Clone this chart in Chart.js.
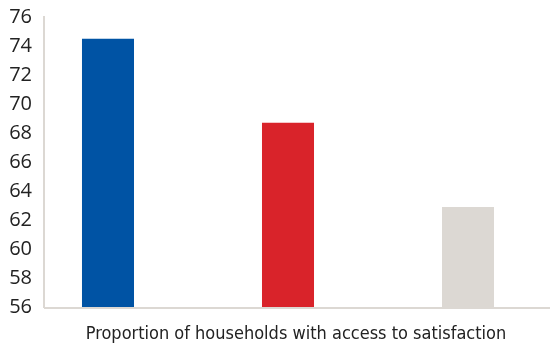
<!DOCTYPE html>
<html>
<head>
<meta charset="utf-8">
<script src="https://cdn.jsdelivr.net/npm/chart.js@4"></script>
<style>
  html, body { margin: 0; padding: 0; background: #fff; }
  #wrap { width: 550px; height: 347px; }
</style>
</head>
<body>
<div id="wrap"><canvas id="chart"></canvas></div>
<script>
// ===== DATA =====
const categories = ['Proportion of households with access to satisfaction'];
const seriesNames = ['Series 1', 'Series 2', 'Series 3'];
const seriesValues = [74.5, 68.7, 62.9];
const seriesColors = ['#0053a4', '#d9232a', '#dcd8d3'];
const yTicks = [56, 58, 60, 62, 64, 66, 68, 70, 72, 74, 76];

const axisColor = '#dcd8d3';

// extend the baseline to the right edge of the canvas
const baselinePlugin = {
  id: 'baseline',
  afterDraw(chart) {
    const { ctx, chartArea } = chart;
    ctx.save();
    ctx.strokeStyle = axisColor;
    ctx.lineWidth = 2;
    ctx.beginPath();
    ctx.moveTo(chartArea.left, chartArea.bottom + 1);
    ctx.lineTo(chart.width, chartArea.bottom + 1);
    ctx.stroke();
    ctx.restore();
  }
};

new Chart(document.getElementById('chart'), {
  type: 'bar',
  data: {
    labels: categories,
    datasets: seriesNames.map((name, i) => ({
      label: name,
      data: [seriesValues[i]],
      backgroundColor: seriesColors[i],
      borderWidth: 0,
      barPercentage: 0.289,
      categoryPercentage: 1.1066
    }))
  },
  options: {
    responsive: true,
    maintainAspectRatio: false,
    animation: false,
    layout: { padding: { left: 0, right: 18, top: 17, bottom: 0 } },
    plugins: {
      legend: { display: false },
      tooltip: { enabled: false }
    },
    scales: {
      x: {
        afterFit(scale) { scale.height = 40; },
        grid: { display: false, drawTicks: false },
        border: { display: false },
        ticks: {
          color: '#222',
          padding: 17,
          labelOffset: 8,
          font: { family: '"DejaVu Sans Condensed", "Liberation Sans Narrow", sans-serif', size: 18 }
        }
      },
      y: {
        min: 56,
        max: 76,
        afterBuildTicks(scale) {
          scale.ticks = yTicks.map(v => ({ value: v }));
        },
        afterFit(scale) {
          scale.width = 44;
          scale.paddingTop = 0;
          scale.paddingBottom = 0;
        },
        grid: { display: false, drawTicks: false },
        border: { display: true, color: axisColor, width: 2 },
        ticks: {
          color: '#222',
          padding: 12,
          autoSkip: false,
          font: { family: '"Open Sans", sans-serif', size: 20 }
        }
      }
    }
  },
  plugins: [baselinePlugin]
});
</script>
</body>
</html>
